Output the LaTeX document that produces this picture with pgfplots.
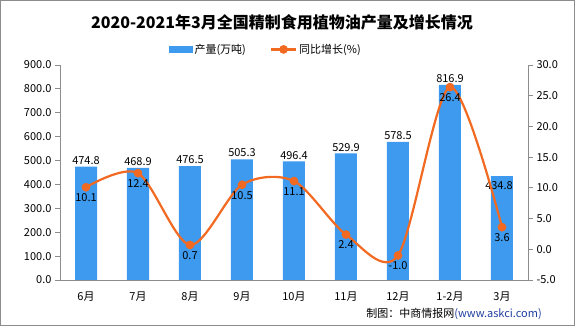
\documentclass[border=0pt]{standalone}
\usepackage{pgfplots}
\pgfplotsset{compat=1.18}
\usepackage{fontspec}
\setmainfont{Noto Sans CJK SC}
\definecolor{barblue}{HTML}{3D9AEF}
\definecolor{lineorange}{HTML}{F26A21}
\definecolor{axgray}{HTML}{8C8C8C}
\definecolor{srcblue}{HTML}{1F3F9F}
\pgfkeys{/pgf/number format/onedec/.style={/pgf/number format/fixed, /pgf/number format/fixed zerofill, /pgf/number format/precision=1, /pgf/number format/assume math mode=true}}
\pgfplotstableread{
x y dy dx
0 474.8 0 0
1 468.9 0 0
2 476.5 0 0
3 505.3 0 0
4 496.4 0 0
5 529.9 0 0
6 578.5 0 0
7 816.9 0 0
8 434.8 -16 -3
}\prod
\pgfplotstableread{
x y
0 10.1
1 12.4
2 0.7
3 10.5
4 11.1
5 2.4
6 -1.0
7 26.4
8 3.6
}\growth
\begin{document}
\begin{tikzpicture}[x=1pt,y=1pt]
\path[use as bounding box] (0,0) rectangle (575,326);
\draw[axgray, line width=1pt] (0.5,0.5) rectangle (574.5,325.5);
\begin{axis}[
  at={(60pt,46pt)}, anchor=south west,
  width=468pt, height=215pt, scale only axis,
  xmin=-0.5, xmax=8.5, ymin=0, ymax=900,
  axis x line*=bottom, axis y line*=left,
  axis line style={axgray, line width=0.8pt},
  xtick={0,...,8},
  xticklabels={6月,7月,8月,9月,10月,11月,12月,1-2月,3月},
  major x tick style={draw=none},
  extra x ticks={-0.5,0.5,...,8.5},
  extra x tick labels={},
  extra x tick style={major tick length=5pt, tick style={axgray, line width=0.8pt}, tick align=outside},
  ytick={0,100,...,900},
  tick align=outside,
  major tick length=5pt,
  tick style={axgray, line width=0.8pt},
  yticklabel style={/pgf/number format/onedec},
  ticklabel style={font=\fontsize{11}{11}\selectfont, text=black},
  xticklabel style={yshift=-3pt},
]
\addplot[ybar, bar width=22pt, fill=barblue, draw=none,
  visualization depends on={\thisrow{dy} \as \dy},
  visualization depends on={\thisrow{dx} \as \dx},
  nodes near coords,
  nodes near coords style={font=\fontsize{11}{11}\selectfont, text=black, /pgf/number format/onedec},
  every node near coord/.append style={yshift=\dy pt, xshift=\dx pt, anchor=south, inner sep=2pt},
] table[x=x,y=y] {\prod};
\end{axis}
\begin{axis}[
  at={(60pt,46pt)}, anchor=south west,
  width=468pt, height=215pt, scale only axis,
  xmin=-0.5, xmax=8.5, ymin=-5, ymax=30,
  axis x line=none, axis y line*=right,
  axis line style={axgray, line width=0.8pt},
  ytick={-5,0,...,30},
  tick align=outside,
  major tick length=5pt,
  tick style={axgray, line width=0.8pt},
  yticklabel style={/pgf/number format/onedec},
  ticklabel style={font=\fontsize{11}{11}\selectfont, text=black},
  legend columns=2,
  legend style={at={(0.44,1)}, anchor=south, yshift=6pt, draw=none, fill=none,
    font=\fontsize{11}{11}\selectfont, /tikz/every even column/.append style={column sep=22pt}},
]
\addlegendimage{legend image code/.code={\fill[barblue] (0pt,-3pt) rectangle (23pt,3pt);}}
\addlegendentry{产量(万吨)}
\addplot[lineorange, line width=2.2pt, smooth, mark=*, mark size=3.2pt,
  mark options={fill=lineorange, draw=lineorange},
  legend image code/.code={\draw[lineorange, line width=2.2pt] (0pt,0pt) -- (25pt,0pt); \fill[lineorange] (12.5pt,0pt) circle (3.2pt);},
  nodes near coords,
  nodes near coords style={font=\fontsize{11}{11}\selectfont, text=black, anchor=north, yshift=-2pt, /pgf/number format/onedec},
] table[x=x,y=y] {\growth};
\addlegendentry{同比增长(\%)}
\end{axis}
\node[font=\bfseries\fontsize{16}{16}\selectfont] at (282,304) {2020-2021年3月全国精制食用植物油产量及增长情况};
\node[anchor=east, font=\fontsize{11}{11}\selectfont, inner sep=0pt] at (542,12) {制图：中商情报网\textcolor{srcblue}{(www.askci.com)}};
\end{tikzpicture}
\end{document}
